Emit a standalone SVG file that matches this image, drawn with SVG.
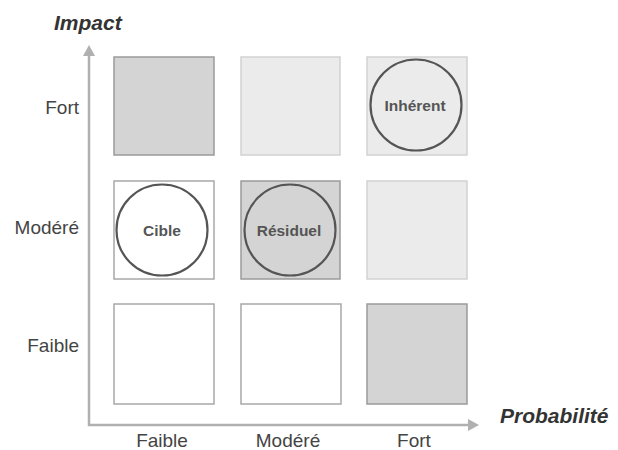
<svg xmlns="http://www.w3.org/2000/svg" width="618" height="450" viewBox="0 0 618 450">
<style>
.lbl{font-family:"Liberation Sans",Arial,sans-serif;font-size:19px;fill:#444}
.ax{font-family:"Liberation Sans",Arial,sans-serif;font-size:21px;font-weight:bold;font-style:italic;fill:#333}
.ct{font-family:"Liberation Sans",Arial,sans-serif;font-size:15.5px;font-weight:bold;fill:#555;text-anchor:middle}
.w{fill:#ffffff;stroke:#a8a8a8;stroke-width:1.5}
.g{fill:#d4d4d4;stroke:#9a9a9a;stroke-width:1.5}
.l{fill:#ebebeb;stroke:#d2d2d2;stroke-width:1.5}
.c{fill:none;stroke:#555;stroke-width:2.2}
.axis{fill:none;stroke:#b0b0b0;stroke-width:2.5}
</style>
<rect width="618" height="450" fill="#fff"/>
<g id="axes">
<polyline class="axis" points="89,54 89,425 470,425"/>
<polygon points="89,45 83,56 95,56" fill="#b0b0b0"/>
<polygon points="479,425 468,419 468,431" fill="#b0b0b0"/>
</g>
<g id="labels">
<text class="ax" x="54" y="30">Impact</text>
<text class="ax" x="500" y="423">Probabilité</text>
<text class="lbl" x="79" y="114" text-anchor="end">Fort</text>
<text class="lbl" x="79" y="234" text-anchor="end">Modéré</text>
<text class="lbl" x="79" y="352" text-anchor="end">Faible</text>
<text class="lbl" x="162" y="447" text-anchor="middle">Faible</text>
<text class="lbl" x="288" y="447" text-anchor="middle">Modéré</text>
<text class="lbl" x="414" y="447" text-anchor="middle">Fort</text>
</g>
<g id="cell-fort-faible"><rect class="g" x="114" y="57" width="100" height="98"/></g>
<g id="cell-fort-modere"><rect class="l" x="241" y="57" width="99" height="98"/></g>
<g id="cell-fort-fort"><rect class="l" x="367" y="57" width="100" height="98"/><circle class="c" cx="416" cy="105" r="45.5"/><text class="ct" x="415" y="111">Inhérent</text></g>
<g id="cell-modere-faible"><rect class="w" x="114" y="181" width="100" height="98"/><circle class="c" cx="162" cy="230" r="45.5"/><text class="ct" x="162" y="236">Cible</text></g>
<g id="cell-modere-modere"><rect class="g" x="241" y="181" width="99" height="98"/><circle class="c" cx="290" cy="230" r="45.5"/><text class="ct" x="289" y="236">Résiduel</text></g>
<g id="cell-modere-fort"><rect class="l" x="367" y="181" width="100" height="98"/></g>
<g id="cell-faible-faible"><rect class="w" x="114" y="304" width="100" height="100"/></g>
<g id="cell-faible-modere"><rect class="w" x="241" y="304" width="100" height="100"/></g>
<g id="cell-faible-fort"><rect class="g" x="367" y="304" width="100" height="100"/></g>
</svg>
